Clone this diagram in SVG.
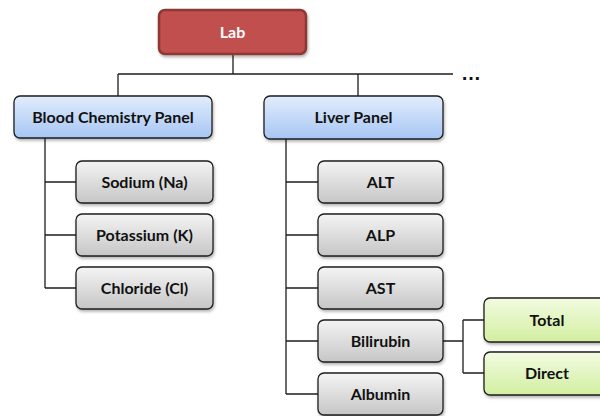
<svg xmlns="http://www.w3.org/2000/svg" width="600" height="416" viewBox="0 0 600 416">
  <defs>
    <linearGradient id="gBlue" x1="0" y1="0" x2="0" y2="1">
      <stop offset="0" stop-color="#e2edfc"/>
      <stop offset="1" stop-color="#a6c6f4"/>
    </linearGradient>
    <linearGradient id="gGrey" x1="0" y1="0" x2="0" y2="1">
      <stop offset="0" stop-color="#f4f4f4"/>
      <stop offset="1" stop-color="#c6c6c6"/>
    </linearGradient>
    <linearGradient id="gGreen" x1="0" y1="0" x2="0" y2="1">
      <stop offset="0" stop-color="#f2fbe2"/>
      <stop offset="1" stop-color="#d2efa0"/>
    </linearGradient>
    <filter id="shadow" x="-10%" y="-20%" width="120%" height="150%">
      <feDropShadow dx="1" dy="2" stdDeviation="1.5" flood-color="#000" flood-opacity="0.3"/>
    </filter>
  </defs>
  <style>
    .box { stroke: #1e1e1e; stroke-width: 1.3; filter: url(#shadow); }
    .root { fill: #c0504d; stroke: #8c3836; stroke-width: 2.5; filter: url(#shadow); }
    .panel { fill: url(#gBlue); }
    .item { fill: url(#gGrey); }
    .leaf { fill: url(#gGreen); }
    .lbl { font-family: Lato, "Liberation Sans", sans-serif; font-weight: bold; font-size: 16px; fill: #111; text-anchor: middle; dominant-baseline: central; }
    .lblw { fill: #ffffff; }
    .more { font-family: "Liberation Sans", sans-serif; font-weight: bold; font-size: 20px; fill: #111111; text-anchor: middle; }
    .conn { fill: none; stroke: #1e1e1e; stroke-width: 1.3; }
  </style>
  <rect width="600" height="416" fill="#ffffff"/>

  <!-- connectors -->
  <g id="connectors" class="conn">
    <path d="M233 54 V74 M118 74 H453 M118 74 V96 M358 74 V96"/>
    <path d="M45 138 V288 M45 182 H76 M45 235 H76 M45 288 H76"/>
    <path d="M286 139 V394 M286 182 H318 M286 235 H318 M286 288 H318 M286 341 H318 M286 394 H318"/>
    <path d="M443 341 H463 M463 320 V373 M463 320 H484 M463 373 H484"/>
  </g>
  <text x="471" y="80" class="more">…</text>

  <g id="lab">
    <rect class="root" x="159" y="10" width="147" height="44" rx="6"/>
    <text class="lbl lblw" x="232.5" y="31">Lab</text>
  </g>

  <g id="blood-chemistry-panel">
    <rect class="box panel" x="14" y="96" width="198" height="42" rx="6"/>
    <text class="lbl" x="113" y="116">Blood Chemistry Panel</text>
  </g>
  <g id="liver-panel">
    <rect class="box panel" x="264" y="96" width="179" height="43" rx="6"/>
    <text class="lbl" x="353.5" y="116.5">Liver Panel</text>
  </g>

  <g id="sodium">
    <rect class="box item" x="76" y="161" width="137" height="42" rx="6"/>
    <text class="lbl" x="144.5" y="181">Sodium (Na)</text>
  </g>
  <g id="potassium">
    <rect class="box item" x="76" y="214" width="137" height="42" rx="6"/>
    <text class="lbl" x="144.5" y="234">Potassium (K)</text>
  </g>
  <g id="chloride">
    <rect class="box item" x="76" y="267" width="137" height="42" rx="6"/>
    <text class="lbl" x="144.5" y="287">Chloride (Cl)</text>
  </g>

  <g id="alt">
    <rect class="box item" x="318" y="161" width="125" height="42" rx="6"/>
    <text class="lbl" x="380.5" y="181">ALT</text>
  </g>
  <g id="alp">
    <rect class="box item" x="318" y="214" width="125" height="42" rx="6"/>
    <text class="lbl" x="380.5" y="234">ALP</text>
  </g>
  <g id="ast">
    <rect class="box item" x="318" y="267" width="125" height="42" rx="6"/>
    <text class="lbl" x="380.5" y="287">AST</text>
  </g>
  <g id="bilirubin">
    <rect class="box item" x="318" y="320" width="125" height="42" rx="6"/>
    <text class="lbl" x="380.5" y="340">Bilirubin</text>
  </g>
  <g id="albumin">
    <rect class="box item" x="318" y="373" width="125" height="42" rx="6"/>
    <text class="lbl" x="380.5" y="393">Albumin</text>
  </g>

  <g id="total">
    <rect class="box leaf" x="484" y="298" width="130" height="44" rx="6"/>
    <text class="lbl" x="547" y="319">Total</text>
  </g>
  <g id="direct">
    <rect class="box leaf" x="484" y="352" width="130" height="43" rx="6"/>
    <text class="lbl" x="547" y="372">Direct</text>
  </g>
</svg>
